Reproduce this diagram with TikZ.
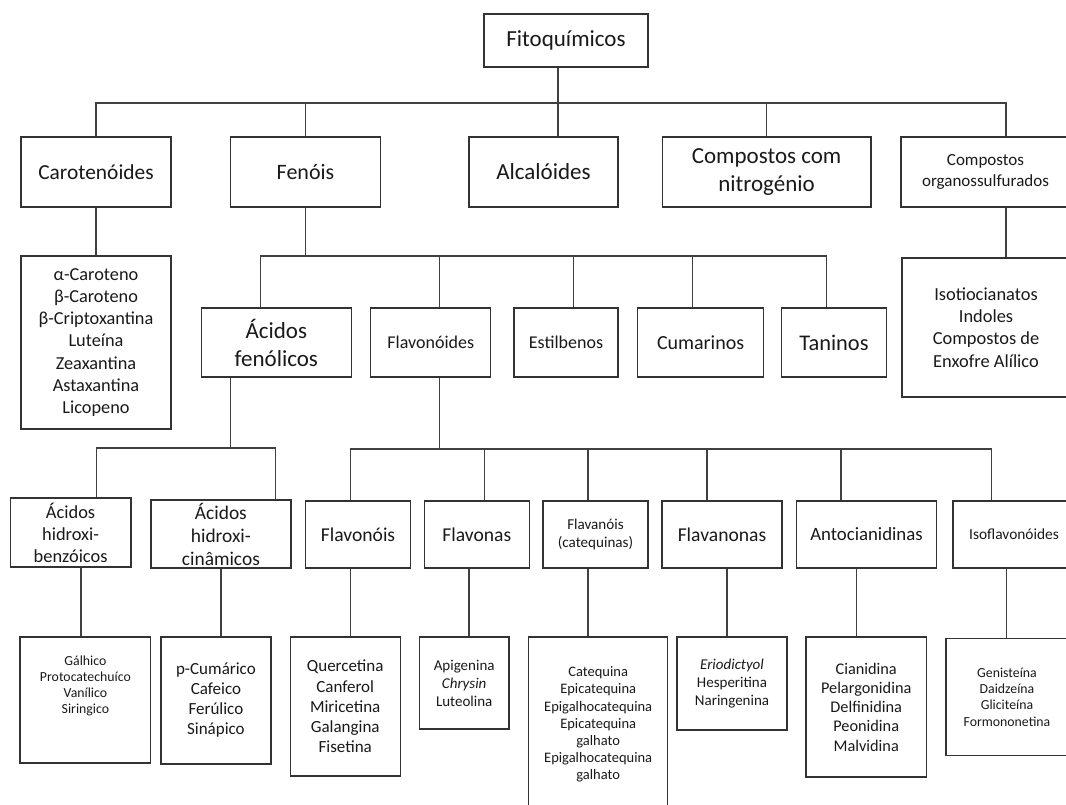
\documentclass[tikz,border=0pt]{standalone}
\usepackage{fontspec}
\setmainfont{Carlito}
\usetikzlibrary{positioning}
\newcommand{\sz}[2]{\fontsize{#1pt}{#2pt}\selectfont}

\begin{document}
\begin{tikzpicture}[
  x=1pt, y=-1pt,
  box/.style={draw=black!80, line width=1.3pt, align=center, inner sep=0pt, text=black!90},
  link/.style={draw=black!75, line width=1.3pt}
]
\useasboundingbox (0,0) rectangle (1066,805);
\node[box, minimum width=164pt, minimum height=53pt, font=\sz{23}{28}] (root) at (566,40.5) {Fitoquímicos};
\node[box, minimum width=150pt, minimum height=70pt, font=\sz{21.4}{26}] (carot) at (96,172) {Carotenóides};
\node[box, minimum width=150pt, minimum height=70pt, font=\sz{22}{26}] (fenois) at (305.5,172) {Fenóis};
\node[box, minimum width=149pt, minimum height=70pt, font=\sz{23}{27}] (alcal) at (543.5,172) {Alcalóides};
\node[box, minimum width=208.5pt, minimum height=70pt, font=\sz{23}{28}] (nitro) at (766.6,172) {Compostos com\\nitrogénio};
\node[box, minimum width=169pt, minimum height=70pt, font=\sz{17}{21.5}] (organo) at (985.5,172) {Compostos\\organossulfurados};
\node[box, minimum width=150pt, minimum height=173pt, font=\sz{18.3}{22.2}] (carlist) at (96,342.5)
  {α-Caroteno\\β-Caroteno\\β-Criptoxantina\\Luteína\\Zeaxantina\\Astaxantina\\Licopeno};
\node[box, minimum width=168pt, minimum height=139pt, font=\sz{18.4}{22.4}] (sulflist) at (986,327.5)
  {Isotiocianatos\\Indoles\\Compostos de\\Enxofre Alílico};
\node[box, minimum width=150pt, minimum height=69pt, font=\sz{23}{28}] (acfen) at (276.3,342.5) {Ácidos\\fenólicos};
\node[box, minimum width=120pt, minimum height=69pt, font=\sz{18}{22}] (flavd) at (430.8,342.5) {Flavonóides};
\node[box, minimum width=104pt, minimum height=69pt, font=\sz{18}{22}] (estil) at (566,342.5) {Estilbenos};
\node[box, minimum width=126pt, minimum height=69pt, font=\sz{20}{24}] (cumar) at (700.6,342.5) {Cumarinos};
\node[box, minimum width=105pt, minimum height=69pt, font=\sz{22.4}{26}] (tanin) at (834,342.5) {Taninos};
\node[box, minimum width=120.6pt, minimum height=69pt, font=\sz{18.4}{22}] (hbenz) at (70.6,532.5) {Ácidos\\hidroxi-\\benzóicos};
\node[box, minimum width=140pt, minimum height=68pt, font=\sz{19.4}{23}] (hcin) at (220.9,534) {Ácidos\\hidroxi-\\cinâmicos};
\node[box, minimum width=105pt, minimum height=67pt, font=\sz{19.6}{23}] (flavois) at (358,534.5) {Flavonóis};
\node[box, minimum width=105pt, minimum height=67pt, font=\sz{19.6}{23}] (flavonas) at (476.8,534.5) {Flavonas};
\node[box, minimum width=105pt, minimum height=67pt, font=\sz{15.1}{17.5}] (flavanois) at (595.5,534.5) {Flavanóis\\(catequinas)};
\node[box, minimum width=120pt, minimum height=67pt, font=\sz{19.6}{23}] (flavanonas) at (722,534.5) {Flavanonas};
\node[box, minimum width=140.5pt, minimum height=67pt, font=\sz{18.8}{23}] (antoc) at (866.5,534.5) {Antocianidinas};
\node[box, minimum width=122pt, minimum height=67pt, font=\sz{15.4}{18}] (isofl) at (1014,534.5) {Isoflavonóides};
\node[box, minimum width=130.8pt, minimum height=126pt, font=\sz{13.8}{16}] (galh) at (85.4,700) {Gálhico\\Protocatechuíco\\Vanílico\\Siringico\\[14pt]};
\node[box, minimum width=110pt, minimum height=127pt, font=\sz{17}{20}] (pcum) at (215.9,700.5) {p-Cumárico\\Cafeico\\Ferúlico\\Sinápico};
\node[box, minimum width=110pt, minimum height=139pt, font=\sz{17}{20.3}] (querc) at (345.2,706.5) {Quercetina\\Canferol\\Miricetina\\Galangina\\Fisetina};
\node[box, minimum width=89.6pt, minimum height=92pt, font=\sz{15}{18}] (apig) at (464.2,683) {Apigenina\\\textit{Chrysin}\\Luteolina};
\node[box, minimum width=139pt, minimum height=175pt, font=\sz{14.5}{17.2}] (catq) at (598.2,724.5)
  {Catequina\\Epicatequina\\Epigalhocatequina\\Epicatequina\\galhato\\Epigalhocatequina\\galhato};
\node[box, minimum width=110pt, minimum height=93pt, font=\sz{15}{18}] (eriod) at (732,683.5) {\textit{Eriodictyol}\\Hesperitina\\Naringenina};
\node[box, minimum width=120.7pt, minimum height=140pt, font=\sz{16.3}{19.3}] (cian) at (866.2,707) {Cianidina\\Pelargonidina\\Delfinidina\\Peonidina\\Malvidina};
\node[box, minimum width=122pt, minimum height=117pt, font=\sz{13.8}{16.3}] (genis) at (1007,697) {Genisteína\\Daidzeína\\Gliciteína\\Formononetina};

\coordinate (bus1) at (558,103);
\coordinate (bus2) at (305.5,256);
\coordinate (bus3) at (230.7,448);
\coordinate (bus4) at (439.7,449);

\draw[link] (root.south -| bus1) -- (alcal.north -| bus1);
\draw[link] (carot.north) |- (bus1) -| (organo.north -| 1006,0);
\draw[link] (fenois.north) -- (fenois.north |- bus1);
\draw[link] (nitro.north) -- (nitro.north |- bus1);
\draw[link] (carot) -- (carlist);
\draw[link] (organo.south -| 1006,0) -- (sulflist.north -| 1006,0);

\draw[link] (fenois.south) -- (bus2);
\draw[link] (acfen.north -| 260.7,0) |- (bus2) -| (tanin.north -| 826.4,0);
\foreach \n/\x in {flavd/439.7, estil/573.4, cumar/692.4}
  \draw[link] (\n.north -| \x,0) -- (bus2 -| \x,0);

\draw[link] (acfen.south -| bus3) -- (bus3);
\draw[link] (hbenz.north -| 96.4,0) |- (bus3) -| (hcin.north -| 275.5,0);
\draw[link] (flavd.south -| bus4) -- (bus4);
\draw[link] (flavois.north -| 350.2,0) |- (bus4) -| (isofl.north -| 991.5,0);
\foreach \n/\x in {flavonas/484.5, flavanois/588.1, flavanonas/707.1, antoc/841.1}
  \draw[link] (\n.north -| \x,0) -- (bus4 -| \x,0);

\foreach \a/\b/\x in {hbenz/galh/80.9, hcin/pcum/221.1, flavois/querc/350.2, flavonas/apig/469,
    flavanois/catq/588.1, flavanonas/eriod/726.9, antoc/cian/856.5, isofl/genis/1006.5}
  \draw[link] (\a.south -| \x,0) -- (\b.north -| \x,0);
\end{tikzpicture}
\end{document}
